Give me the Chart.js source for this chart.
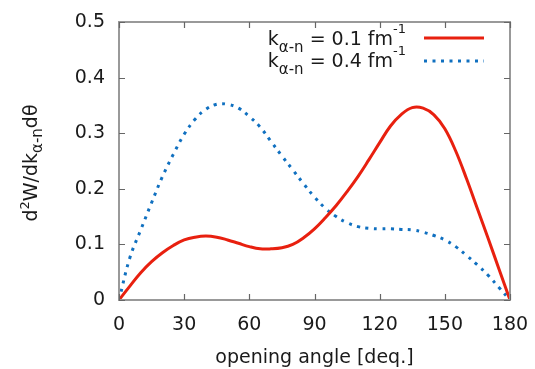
<!DOCTYPE html>
<html>
<head>
<meta charset="utf-8">
<script src="https://cdn.jsdelivr.net/npm/chart.js@4"></script>
<style>
html,body{margin:0;padding:0;background:#fff;}
#wrap{width:535px;height:369px;position:relative;}
</style>
</head>
<body>
<div id="wrap"><canvas id="c" width="535" height="369"></canvas></div>
<script>
const angles = [0,5,10,15,20,25,30,35,40,45,50,55,60,65,70,75,80,85,90,95,100,105,110,115,120,125,130,135,140,145,150,155,160,165,170,175,180];
const k01 = [0,0.025,0.049,0.069,0.085,0.098,0.108,0.113,0.115,0.113,0.108,0.102,0.096,0.092,0.092,0.094,0.100,0.112,0.128,0.148,0.170,0.195,0.222,0.252,0.283,0.313,0.334,0.346,0.345,0.333,0.308,0.268,0.218,0.164,0.110,0.055,0];
const k04 = [0,0.076,0.126,0.175,0.222,0.262,0.298,0.325,0.343,0.352,0.352,0.345,0.330,0.311,0.285,0.259,0.234,0.209,0.185,0.165,0.150,0.139,0.132,0.129,0.128,0.128,0.127,0.126,0.122,0.116,0.108,0.096,0.080,0.063,0.044,0.022,0];
const xTicks = [0,30,60,90,120,150,180];
const yTicks = [0,0.1,0.2,0.3,0.4,0.5];
const legendLabels = [["k","α-n"," = 0.1 fm","-1"],["k","α-n"," = 0.4 fm","-1"]];
const xTitle = "opening angle [deq.]";

const FONT = "DejaVu Sans";
const TXT = "#1a1a1a";
const RED = "#e8200f";
const BLUE = "#1070c0";
const FRAME = "#999999";

function pts(ys){ return angles.map((a,i)=>({x:a,y:ys[i]})); }

const framePlugin = {
  id:'frame',
  afterDatasetsDraw(chart){
    const ctx = chart.ctx, a = chart.chartArea;
    const xs = chart.scales.x, ys = chart.scales.y;
    ctx.save();
    ctx.strokeStyle = FRAME; ctx.lineWidth = 2;
    ctx.strokeRect(a.left, a.top, a.right-a.left, a.bottom-a.top);
    ctx.strokeStyle = "#666"; ctx.lineWidth = 1.2;
    const tl = 6;
    ctx.beginPath();
    xTicks.forEach(v=>{
      const px = Math.round(xs.getPixelForValue(v))+0.5;
      ctx.moveTo(px,a.bottom); ctx.lineTo(px,a.bottom-tl);
      ctx.moveTo(px,a.top); ctx.lineTo(px,a.top+tl);
    });
    yTicks.forEach(v=>{
      const py = Math.round(ys.getPixelForValue(v))+0.5;
      ctx.moveTo(a.left,py); ctx.lineTo(a.left+tl,py);
      ctx.moveTo(a.right,py); ctx.lineTo(a.right-tl,py);
    });
    ctx.stroke();
    ctx.restore();
  },
  afterDraw(chart){
    const ctx = chart.ctx, a = chart.chartArea;
    ctx.save();
    ctx.fillStyle = TXT;
    ctx.textBaseline = 'alphabetic';
    ctx.font = `19px "${FONT}"`;
    ctx.textAlign = 'center';
    ctx.fillText(xTitle, (a.left+a.right)/2, 363);
    const segs = [["d",19,0],["2",13,-8],["W/dk",19,0],["α-n",15,5],["dθ",19,0]];
    ctx.textAlign = 'left';
    let total = 0;
    segs.forEach(s=>{ctx.font=`${s[1]}px "${FONT}"`; total += ctx.measureText(s[0]).width;});
    ctx.translate(37, 163);
    ctx.rotate(-Math.PI/2);
    let x = -total/2;
    segs.forEach(s=>{ctx.font=`${s[1]}px "${FONT}"`; ctx.fillText(s[0], x, s[2]); x += ctx.measureText(s[0]).width;});
    ctx.setTransform(1,0,0,1,0,0);
    const rows = [{y:45, color:RED, dash:[], ly:38},{y:67, color:BLUE, dash:[3,5.5], ly:61}];
    rows.forEach((r,i)=>{
      const L = legendLabels[i];
      const parts = [[L[0],19,0],[L[1],15,7],[L[2],19,0],[L[3],13,-12]];
      let w = 0;
      parts.forEach(p=>{ctx.font=`${p[1]}px "${FONT}"`; w += ctx.measureText(p[0]).width;});
      let px = 406 - w;
      parts.forEach(p=>{ctx.font=`${p[1]}px "${FONT}"`; ctx.fillText(p[0], px, r.y+p[2]); px += ctx.measureText(p[0]).width;});
      ctx.beginPath();
      ctx.strokeStyle = r.color; ctx.lineWidth = 3; ctx.setLineDash(r.dash);
      ctx.moveTo(424, r.ly); ctx.lineTo(484, r.ly); ctx.stroke();
      ctx.setLineDash([]);
    });
    ctx.restore();
  }
};

new Chart(document.getElementById('c'), {
  type:'line',
  data:{
    datasets:[
      {label:'k01', data:pts(k01), borderColor:RED, borderWidth:3, pointRadius:0, tension:0.4, fill:false},
      {label:'k04', data:pts(k04), borderColor:BLUE, borderWidth:3, borderDash:[3,5.5], pointRadius:0, tension:0.4, fill:false}
    ]
  },
  options:{
    responsive:false,
    devicePixelRatio:1,
    animation:false,
    layout:{padding:{left:0,right:25,top:22,bottom:0}},
    plugins:{legend:{display:false}, tooltip:{enabled:false}},
    scales:{
      x:{
        type:'linear', min:0, max:180,
        afterBuildTicks(s){ s.ticks = xTicks.map(v=>({value:v})); },
        afterFit(s){ s.height = 69; s.paddingLeft = 0; s.paddingRight = 0; },
        grid:{display:false, drawTicks:false},
        border:{display:false},
        ticks:{font:{family:FONT,size:19}, color:TXT, padding:14, maxRotation:0, autoSkip:false, callback:v=>String(v)}
      },
      y:{
        type:'linear', min:0, max:0.5,
        afterBuildTicks(s){ s.ticks = yTicks.map(v=>({value:v})); },
        afterFit(s){ s.width = 119; s.paddingTop = 0; s.paddingBottom = 0; },
        grid:{display:false, drawTicks:false},
        border:{display:false},
        ticks:{font:{family:FONT,size:19}, color:TXT, padding:14, autoSkip:false, callback:v=>(v===0?"0":v.toFixed(1))}
      }
    }
  },
  plugins:[framePlugin]
});
</script>
</body>
</html>
